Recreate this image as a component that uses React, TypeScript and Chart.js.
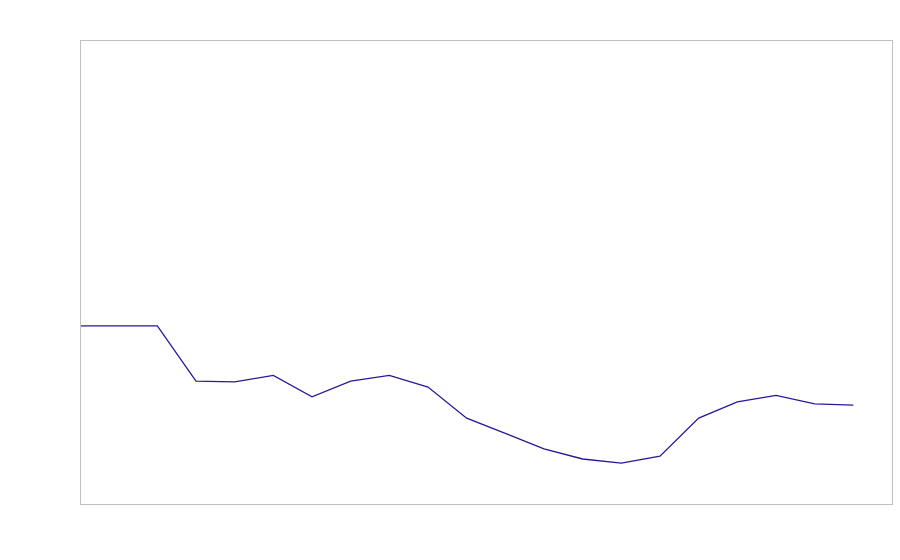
import React, { useEffect, useRef } from "react";
import { Chart, registerables } from "chart.js";

Chart.register(...registerables);

const categories: string[] = Array.from({ length: 22 }, (_, i) => String(i + 1));
const seriesValues: (number | null)[] = [
  38.4, 38.4, 38.4, 26.5, 26.3, 27.7, 23.1, 26.5, 27.7, 25.2, 18.5,
  15.2, 11.9, 9.7, 8.8, 10.3, 18.5, 22.0, 23.4, 21.6, 21.3, null,
];
const yMin = 0;
const yMax = 100;

const framePlugin = {
  id: "frame",
  afterDraw(chart: any) {
    const { ctx, chartArea } = chart;
    ctx.save();
    ctx.strokeStyle = "#c0c0c0";
    ctx.lineWidth = 1;
    ctx.strokeRect(
      Math.round(chartArea.left) + 0.5,
      Math.round(chartArea.top) + 0.5,
      Math.round(chartArea.right - chartArea.left),
      Math.round(chartArea.bottom - chartArea.top)
    );
    ctx.restore();
  },
};

export default function App() {
  const ref = useRef<HTMLCanvasElement>(null);
  useEffect(() => {
    if (!ref.current) return;
    const chart = new Chart(ref.current, {
      type: "line",
      data: {
        labels: categories,
        datasets: [
          {
            data: seriesValues,
            borderColor: "#2e1598",
            borderWidth: 1.3,
            pointRadius: 0,
            tension: 0,
            fill: false,
          },
        ],
      },
      options: {
        animation: false,
        responsive: false,
        maintainAspectRatio: false,
        layout: { padding: { left: 80, top: 40, right: 8, bottom: 56 } },
        plugins: { legend: { display: false }, tooltip: { enabled: false } },
        scales: {
          x: { display: false, offset: false },
          y: { display: false, min: yMin, max: yMax },
        },
      },
      plugins: [framePlugin],
    });
    return () => chart.destroy();
  }, []);
  return (
    <div style={{ position: "fixed", left: 0, top: 0, width: 900, height: 560, background: "#fff" }}>
      <canvas ref={ref} width={900} height={560} style={{ display: "block" }} />
    </div>
  );
}
